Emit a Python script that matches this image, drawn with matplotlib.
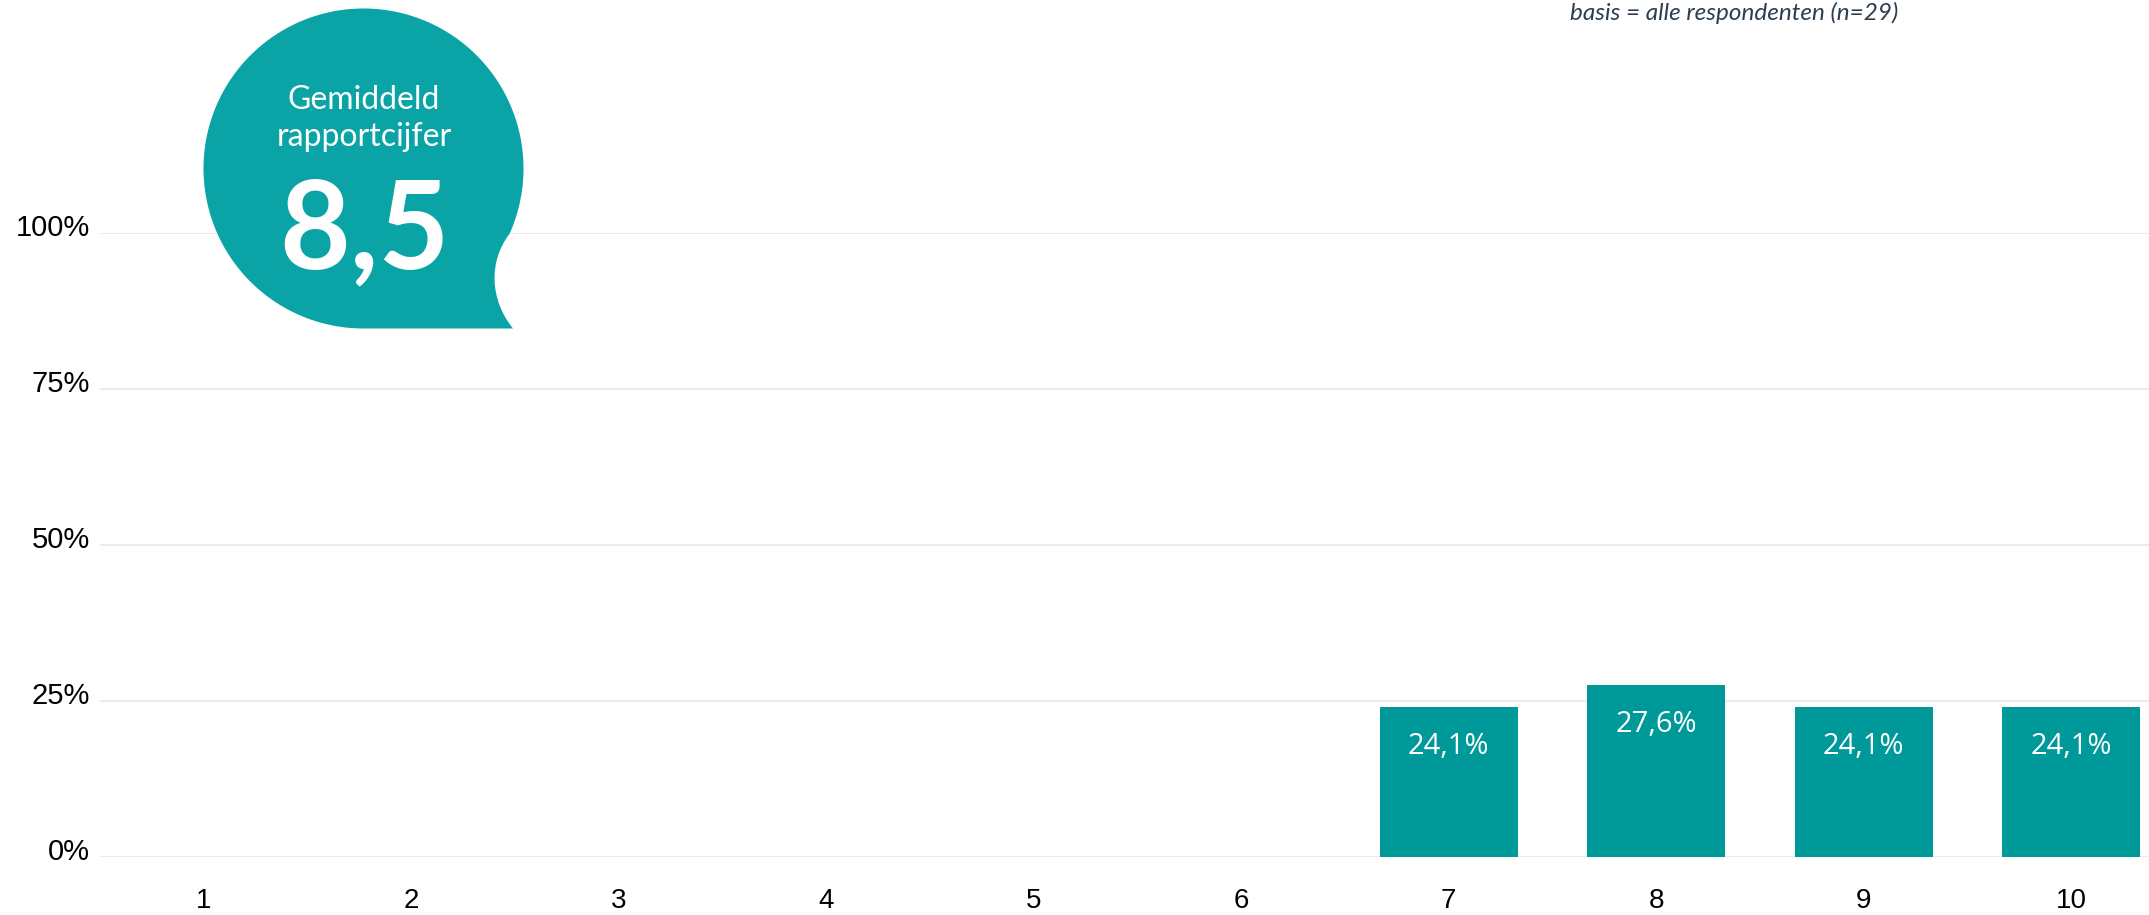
import numpy as np
import matplotlib.pyplot as plt
import matplotlib.transforms as mtrans
from matplotlib.path import Path
from matplotlib.patches import PathPatch

# rapportcijfers 1..10 en aandeel respondenten (%)
scores = [1, 2, 3, 4, 5, 6, 7, 8, 9, 10]
percentages = [0, 0, 0, 0, 0, 0, 24.1, 27.6, 24.1, 24.1]
yticks = [0, 25, 50, 75, 100]
gemiddeld = "8,5"
basis = "basis = alle respondenten (n=29)"

W, H = 2149, 915
bar_color = "#009999"
bubble_color = "#0aa4a6"

fig = plt.figure(figsize=(W / 100, H / 100), dpi=100)
fig.patch.set_facecolor("white")

# grafiekgebied in pixels: links 100, onder 857, boven 233
ax = fig.add_axes([100 / W, (H - 857) / H, (W - 100) / W, (857 - 233) / H])
ax.set_facecolor("none")
ax.bar(scores, percentages, width=0.665, color=bar_color, zorder=2)
ax.set_xlim(0.5, 0.5 + (W - 100) / 207.5)
ax.set_ylim(0, 100)

ax.set_yticks(yticks)
ax.set_yticklabels([f"{t}%" for t in yticks], family="Liberation Sans", fontsize=21)
ax.set_xticks(scores)
ax.set_xticklabels([str(s) for s in scores], family="Liberation Sans", fontsize=20)
ax.tick_params(axis="y", length=0, pad=7)
ax.tick_params(axis="x", length=0, pad=22)
# y-labels iets boven de rasterlijn
offset = mtrans.ScaledTranslation(0, 8 / 100, fig.dpi_scale_trans)
for lbl in ax.get_yticklabels():
    lbl.set_transform(lbl.get_transform() + offset)
ax.grid(axis="y", color="#e8e8e8", linewidth=1.2, zorder=0)
ax.set_axisbelow(True)
for s in ax.spines.values():
    s.set_visible(False)

for x, p in zip(scores, percentages):
    if p > 0:
        ax.annotate(f"{p:.1f}".replace(".", ",") + "%", (x, p), xytext=(0, -18),
                    textcoords="offset points", ha="center", va="top",
                    color="white", fontsize=21, family="Open Sans", zorder=3)

# overlay in pixelcoördinaten voor titel en tekstballon
ov = fig.add_axes([0, 0, 1, 1], zorder=5)
ov.set_xlim(0, W)
ov.set_ylim(H, 0)
ov.axis("off")
ov.patch.set_alpha(0)

ov.text(1734, 13, basis, ha="center", va="center", style="italic",
        family="Lato", fontsize=17.5, color="#2c3e50")

cx, cy, r = 363.5, 168.5, 160
a = np.radians(np.linspace(24, -270, 200))
pts = list(zip(cx + r * np.cos(a), cy + r * np.sin(a)))
start = pts[0]
verts = pts + [(513, 328.5), (490, 300), (488, 262), start]
codes = [Path.MOVETO] + [Path.LINETO] * (len(pts) - 1) + [Path.LINETO,
         Path.CURVE4, Path.CURVE4, Path.CURVE4]
ov.add_patch(PathPatch(Path(verts, codes), facecolor=bubble_color, edgecolor="none"))

ov.text(364, 100, "Gemiddeld", ha="center", va="center", color="white",
        family="Lato", fontsize=23)
ov.text(364, 137, "rapportcijfer", ha="center", va="center", color="white",
        family="Lato", fontsize=23)
ov.text(364, 233, gemiddeld, ha="center", va="center", color="white",
        family="Lato", fontweight="bold", fontsize=88)

fig.savefig("out.png", dpi=100)
